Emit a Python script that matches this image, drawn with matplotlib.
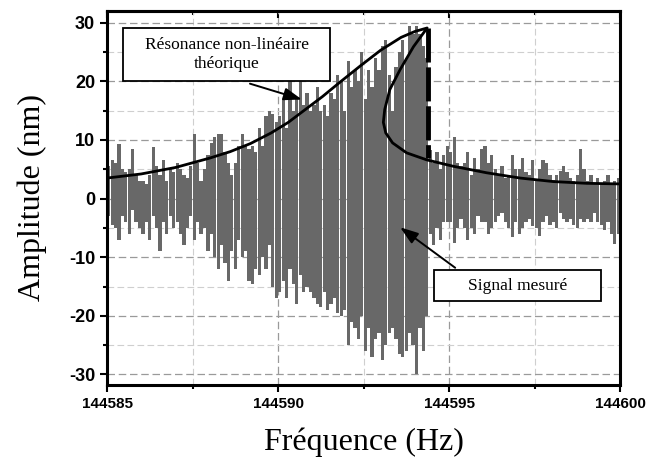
import numpy as np
import matplotlib
matplotlib.use('Agg')
import matplotlib.pyplot as plt
from matplotlib.patches import Rectangle
from matplotlib.ticker import MultipleLocator, ScalarFormatter

plt.rcParams['axes.unicode_minus'] = False

# Signal mesuré : colonnes tous les 0.1 Hz, valeur haute / basse
f_debut = 144585.05
pas_f = 0.1
sig_haut = [
    5.5, 6.5, 6, 9.3, 5, 4.5, 5, 8.5, 4, 3,
    3, 2.5, 4, 8.8, 5.5, 4, 6.5, 3, 5, 4.5,
    6, 5, 4, 3.5, 5.5, 11, 6, 3, 5, 7.5,
    9.5, 10.5, 11, 11, 8, 6, 4, 6, 9, 11,
    9, 8.5, 9, 8, 12, 9, 14, 15, 14.5, 13,
    14, 17, 12, 21, 15, 17, 20, 16, 18, 15,
    16, 19, 15, 16, 14, 18, 17, 21, 20, 15,
    23.5, 19, 22, 20, 25, 17, 22, 19, 24, 22,
    26, 27, 21, 15, 22.5, 25, 27, 24, 29.5, 28,
    29.5, 28, 26, 24, 8.3, 6, 8, 5, 7.5, 9,
    8, 10.5, 6, 5.5, 6, 8, 4, 7, 5, 8.5,
    9, 6, 7.5, 5, 4, 5.5, 3.5, 4, 7.5, 5,
    5, 7, 4.5, 4, 6.5, 3, 5, 6.5, 6, 4,
    3.2, 4, 4.7, 5.5, 4.5, 3.5, 3, 4, 8.4, 5,
    3, 4, 2.7, 3.5, 2.5, 3, 4, 2.5, 3, 3.5,
]
sig_bas = [
    -3, -4.5, -5, -7, -3, -4, -6, -2, -4, -5,
    -6, -4, -7, -3, -5, -9, -4, -6, -3, -5,
    -4, -6, -8, -5, -3, -7, -4, -6, -5, -9,
    -6, -10, -12, -8, -11, -14, -9, -12, -7, -10,
    -9, -14, -14.5, -12, -13, -10, -12, -8, -15, -17,
    -16, -14, -17, -12, -14.5, -18, -13, -16, -15, -16,
    -17, -18, -18.5, -16, -19, -18, -17, -19.5, -20, -19,
    -25, -21, -22, -24, -20, -26, -22, -27, -24, -23,
    -27.5, -25, -23, -22, -24, -26.5, -27, -26, -23, -25,
    -30, -22, -26, -20, -6, -8, -5, -7, -4, -4,
    -4, -7.5, -5, -3.5, -5, -7, -5, -6, -3, -4,
    -4, -6, -5, -4, -3, -2.5, -4, -5, -6.5, -4,
    -6, -5, -4, -3.5, -4.7, -5, -6.4, -4, -3, -4.5,
    -4, -5, -2.4, -3.5, -4, -3.5, -4.5, -5, -3.5, -4,
    -3.5, -4, -2.5, -4, -4.5, -5.3, -4, -6, -7.8, -6,
]

# Résonance non-linéaire théorique (branche haute puis retour)
courbe_f = [144585.0, 144586.0, 144587.0, 144588.0, 144588.6, 144589.2, 144589.8,
            144590.3, 144590.8, 144591.3, 144591.8, 144592.4, 144593.0, 144593.6,
            144594.0, 144594.36,
            144593.96, 144593.57, 144593.27, 144593.12, 144593.08, 144593.15,
            144593.35, 144593.76, 144594.35, 144595.13, 144596.10, 144597.08,
            144598.05, 144599.03, 144600.0]
courbe_a = [3.5, 4.2, 5.3, 6.9, 8.0, 9.4, 11.2,
            13.0, 15.2, 17.4, 19.8, 22.6, 25.3, 27.5,
            28.5, 29.1,
            25.9, 22.0, 18.6, 15.2, 13.0, 11.2,
            9.5, 7.8, 6.6, 5.5, 4.4, 3.5,
            2.9, 2.6, 2.5]

# saut
saut_f = [144594.4, 144594.4]
saut_a = [29.1, 7.0]

freqs = f_debut + pas_f * np.arange(len(sig_haut))
haut = np.array(sig_haut)
bas = np.array(sig_bas)

fig = plt.figure(figsize=(6.51, 4.67), dpi=100)
ax = fig.add_axes([0.1644, 0.1756, 0.788, 0.8009])

ax.bar(freqs, haut - bas, bottom=bas, width=0.094, color='#686868', lw=0, zorder=2)
ax.plot(courbe_f, courbe_a, color='black', lw=2, zorder=4, solid_joinstyle='round')
ax.plot(saut_f, saut_a, color='black', lw=3.5, linestyle=(0, (7, 1)), zorder=4)

ax.set_xlim(144585, 144600)
ax.set_ylim(-31.8, 32)
ax.xaxis.set_major_locator(MultipleLocator(5))
ax.xaxis.set_minor_locator(MultipleLocator(2.5))
ax.yaxis.set_major_locator(MultipleLocator(10))
ax.yaxis.set_minor_locator(MultipleLocator(5))
ax.xaxis.set_major_formatter(ScalarFormatter(useOffset=False))

ax.grid(which='major', color='#9a9a9a', linestyle=(0, (6, 3)), lw=0.9, zorder=0)
ax.grid(which='minor', color='#cfcfcf', linestyle=(0, (6, 3)), lw=0.8, zorder=0)
ax.set_axisbelow(True)

ax.tick_params(which='both', direction='out', width=1.5, top=False, right=False)
ax.tick_params(which='major', length=5)
ax.tick_params(which='minor', length=3)
for lbl in ax.get_xticklabels() + ax.get_yticklabels():
    lbl.set_fontweight('bold')
    lbl.set_fontfamily('Liberation Sans')
for lbl in ax.get_yticklabels():
    lbl.set_fontsize(13)
for lbl in ax.get_xticklabels():
    lbl.set_fontsize(11)
for sp in ax.spines.values():
    sp.set_linewidth(2.2)

# graduations du haut vers l'intérieur
haut_ax = ax.secondary_xaxis('top')
haut_ax.xaxis.set_major_locator(MultipleLocator(5))
haut_ax.xaxis.set_minor_locator(MultipleLocator(2.5))
haut_ax.tick_params(which='both', direction='in', width=1.5, labeltop=False)
haut_ax.tick_params(which='major', length=5)
haut_ax.tick_params(which='minor', length=3)
haut_ax.spines['top'].set_linewidth(2.2)

ax.set_xlabel('Fréquence (Hz)', family='Liberation Serif', fontsize=23, labelpad=12)
ax.set_ylabel('Amplitude (nm)', family='Liberation Serif', fontsize=23, labelpad=16)

fleche = dict(arrowstyle='-|>,head_length=1.1,head_width=0.38',
              color='black', lw=1.4, shrinkA=0, shrinkB=0)

# boîte "Résonance"
ax.add_patch(Rectangle((144585.47, 20.1), 6.05, 9.0, fc='white', ec='black',
                       lw=1.3, zorder=6))
ax.text(144588.5, 24.6, 'Résonance non-linéaire\nthéorique', ha='center', va='center',
        family='Liberation Serif', fontsize=12.5, zorder=7, linespacing=1.25)
ax.annotate('', xy=(144590.7, 16.9), xytext=(144589.18, 19.6), zorder=7,
            arrowprops=fleche)

# boîte "Signal mesuré"
ax.add_patch(Rectangle((144594.57, -17.5), 4.87, 5.3, fc='white', ec='black',
                       lw=1.3, zorder=6))
ax.text(144597.0, -14.85, 'Signal mesuré', ha='center', va='center',
        family='Liberation Serif', fontsize=12.5, zorder=7)
ax.annotate('', xy=(144593.57, -4.9), xytext=(144595.18, -11.8), zorder=7,
            arrowprops=fleche)

fig.savefig('out.png', dpi=100)
